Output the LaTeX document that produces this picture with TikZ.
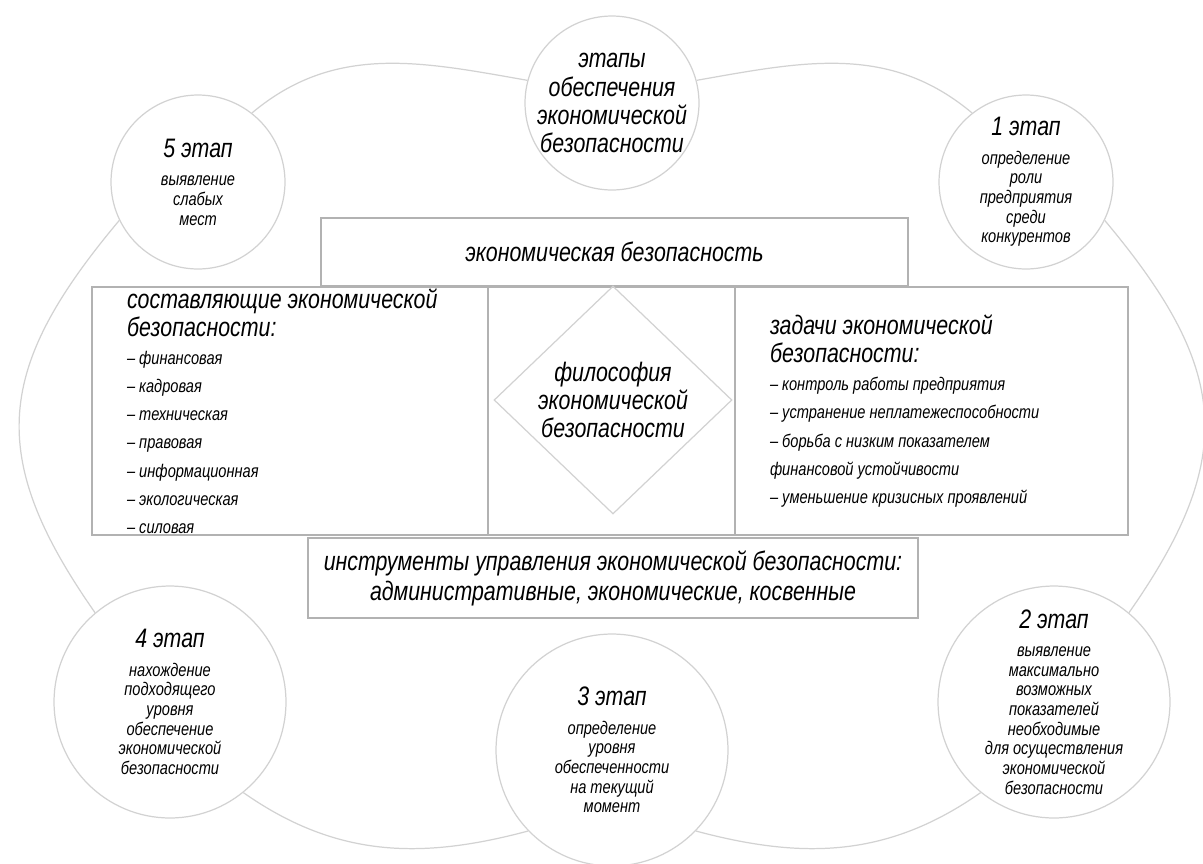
\documentclass[tikz,border=0pt]{standalone}
\usepackage{fontspec}
\setmainfont{Liberation Sans}[FakeStretch=0.8]
\usetikzlibrary{shapes.geometric}
\newcommand{\bigf}{\fontsize{15.2}{16}\selectfont}
\newcommand{\smallf}{\fontsize{10.4}{11.2}\selectfont}
\newcommand{\listf}{\fontsize{10.4}{16}\selectfont}

\begin{document}
\begin{tikzpicture}[x=0.02cm, y=-0.02cm,
  every node/.style={inner sep=1pt, font=\itshape},
  stage/.style={draw=gray!35, line width=0.7pt, circle, inner sep=-12pt, minimum size=3.48cm, align=center, font=\itshape\smallf},
  bigstage/.style={stage, minimum size=4.64cm},
  box/.style={draw=gray!60, line width=0.9pt, rectangle, minimum height=4.96cm},
  cloud/.style={draw=gray!35, line width=0.7pt}]
\useasboundingbox (0,0) rectangle (1203,863);
\node[stage, font=\itshape\bigf] (top) at (612,103) {этапы\\обеспечения\\экономической\\безопасности};
\node[stage] (c1) at (1026,182) {{\bigf 1 этап}\\[5pt]определение\\роли\\предприятия\\среди\\конкурентов};
\node[bigstage] (c2) at (1054,702) {{\bigf 2 этап}\\[5pt]выявление\\максимально\\возможных\\показателей\\необходимые\\для осуществления\\экономической\\безопасности};
\node[bigstage] (c3) at (612,750) {{\bigf 3 этап}\\[5pt]определение\\уровня\\обеспеченности\\на текущий\\момент};
\node[bigstage] (c4) at (170,702) {{\bigf 4 этап}\\[5pt]нахождение\\подходящего\\уровня\\обеспечение\\экономической\\безопасности};
\node[stage] (c5) at (198,182) {{\bigf 5 этап}\\[5pt]выявление\\слабых\\мест};
\draw[cloud] (c5.52) to[out=40,in=170] (top.165) (top.15) to[out=10,in=140] (c1.128);
\draw[cloud] (c1.-26) to[out=-50,in=55,looseness=1.25] (c2.50) (c5.206) to[out=230,in=125,looseness=1.25] (c4.130);
\draw[cloud] (c4.-51) to[out=-35,in=195] (c3.224) (c3.-44) to[out=-15,in=215] (c2.231);
\node[box, minimum width=11.74cm, minimum height=1.36cm, font=\itshape\bigf] (eb) at (614.5,252) {экономическая безопасность};
\node[box, minimum width=7.92cm, inner xsep=0.7cm, inner ysep=0pt, text width=6.52cm, align=flush left, font=\itshape\listf] (sost) at (290,411) {{\bigf составляющие экономической}\\{\bigf безопасности:}\\– финансовая\\– кадровая\\– техническая\\– правовая\\– информационная\\– экологическая\\– силовая};
\node[box, minimum width=4.94cm] (mid) at (611.5,411) {};
\node[box, minimum width=7.86cm, inner xsep=0.7cm, inner ysep=0pt, text width=6.46cm, align=flush left, font=\itshape\listf] (zad) at (931.5,411) {{\bigf задачи экономической}\\{\bigf безопасности:}\\– контроль работы предприятия\\– устранение неплатежеспособности\\– борьба с низким показателем\\финансовой устойчивости\\– уменьшение кризисных проявлений};
\node[draw=gray!35, line width=0.7pt, diamond, inner sep=0pt, minimum width=4.76cm, minimum height=4.56cm, align=center, font=\itshape\bigf] (fil) at (613,400) {философия\\экономической\\безопасности};
\node[box, minimum width=12.2cm, minimum height=1.6cm, align=center, font=\itshape\fontsize{15.2}{17}\selectfont] (inst) at (613,578) {инструменты управления экономической безопасности:\\административные, экономические, косвенные};
\end{tikzpicture}
\end{document}
